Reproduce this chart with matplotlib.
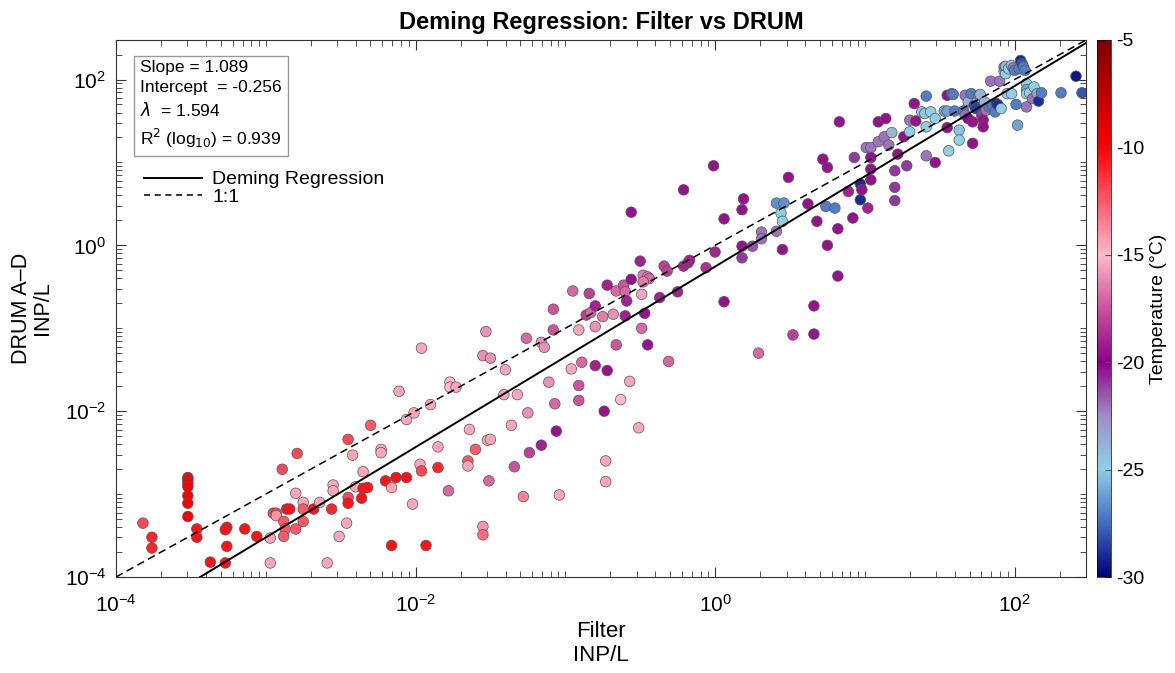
import numpy as np
import matplotlib
matplotlib.use("Agg")
import matplotlib.pyplot as plt
from matplotlib.colors import LinearSegmentedColormap
from matplotlib.lines import Line2D
from matplotlib.ticker import LogLocator, NullFormatter, FixedLocator

plt.rcParams['font.family'] = ['Liberation Sans', 'DejaVu Sans']
plt.rcParams['axes.unicode_minus'] = False

# Deming fit parameters (log10 space)
slope = 1.089
intercept = -0.256
lam = 1.594
r2 = 0.939

# log10 of Filter INP/L
filter_log10 = [
    -3.82, -3.76, -3.76, -3.52, -3.52, -3.52, -3.52, -3.52, -3.52, -3.52,
    -3.46, -3.46, -3.37, -3.27, -3.26, -3.27, -3.26, -3.14, -3.06, -2.97,
    -2.97, -2.95, -2.93, -2.93, -2.89, -2.88, -2.87, -2.88, -2.86, -2.84,
    -2.80, -2.80, -2.79, -2.75, -2.75, -2.75, -2.68, -2.64, -2.59, -2.56,
    -2.55, -2.55, -2.51, -2.46, -2.45, -2.45, -2.45, -2.42, -2.40, -2.35,
    -2.35, -2.36, -2.32, -2.30, -2.23, -2.23, -2.20, -2.16, -2.16, -2.13,
    -2.06, -2.06, -2.01, -2.02, -1.97, -1.96, -1.93, -1.90, -1.85, -1.85,
    -1.78, -1.65, -1.65, -1.64, -1.60, -1.55, -1.55, -1.52, -1.50, -1.51,
    -1.96, -2.11, -1.77, -1.77, -1.73, -1.53, -1.55, -1.50, -1.40, -1.41,
    -1.36, -1.34, -1.32, -1.28, -1.26, -1.25, -1.24, -1.16, -1.16, -1.14,
    -1.11, -1.08, -1.08, -1.07, -1.06, -1.04, -0.96, -0.95, -0.91, -0.91,
    -0.91, -0.89, -0.84, -0.86, -0.83, -0.80, -0.80, -0.80, -0.75, -0.72,
    -0.74, -0.73, -0.73, -0.68, -0.66, -0.63, -0.72, -0.66, -0.61, -0.60,
    -0.59, -0.60, -0.57, -0.56, -0.56, -0.51, -0.50, -0.49, -0.49, -0.48,
    -0.45, -0.44, -0.48, -0.47, -0.45, -0.37, -0.34, -0.32, -0.31, -0.25,
    -0.21, -0.21, -0.18, -0.17, -0.06, -0.01, 0.00, 0.06, 0.06, 0.18,
    0.19, 0.18, 0.18, 0.25, 0.29, 0.31, 0.31, 0.41, 0.46, 0.44,
    0.45, 0.41, 0.45, 0.49, 0.52, 0.62, 0.66, 0.66, 0.68, 0.74,
    0.75, 0.72, 0.75, 0.80, 0.82, 0.82, 0.83, 0.89, 0.92, 0.93,
    0.97, 0.97, 0.98, 1.02, 1.01, 1.04, 1.04, 1.04, 1.04, 1.09,
    1.14, 1.09, 1.13, 1.16, 1.18, 1.20, 1.20, 1.20, 1.22, 1.26,
    1.28, 1.30, 1.30, 1.33, 1.34, 1.38, 1.40, 1.41, 1.41, 1.41,
    1.44, 1.47, 1.47, 1.53, 1.55, 1.55, 1.55, 1.56, 1.58, 1.59,
    1.60, 1.63, 1.63, 1.66, 1.67, 1.67, 1.69, 1.69, 1.71, 1.72,
    1.72, 1.73, 1.74, 1.76, 1.77, 1.78, 1.79, 1.79, 1.80, 1.81,
    1.83, 1.85, 1.84, 1.87, 1.88, 1.89, 1.90, 1.91, 1.93, 1.93,
    1.94, 1.94, 1.96, 1.98, 1.99, 1.95, 1.98, 2.00, 2.01, 2.02,
    2.03, 2.04, 2.05, 2.06, 2.07, 2.08, 2.08, 2.08, 2.08, 2.10,
    2.13, 2.12, 2.15, 2.16, 2.18, 2.31, 2.41, 2.45,
]

# log10 of DRUM A-D INP/L
drum_log10 = [
    -3.35, -3.52, -3.65, -2.80, -2.83, -2.87, -2.91, -3.02, -3.11, -3.27,
    -3.42, -3.52, -3.82, -3.83, -3.40, -3.43, -3.63, -3.42, -3.51, -3.53,
    -3.83, -3.23, -3.23, -3.26, -2.70, -3.33, -3.42, -3.51, -3.18, -3.18,
    -2.99, -3.42, -2.51, -3.10, -3.18, -3.33, -3.18, -3.10, -3.83, -3.18,
    -2.89, -2.96, -3.51, -3.35, -2.34, -3.04, -3.11, -2.53, -2.91, -2.73,
    -2.93, -3.05, -2.92, -2.17, -2.46, -2.50, -2.84, -2.92, -3.62, -2.80,
    -2.10, -2.80, -2.02, -3.12, -2.64, -2.72, -3.62, -1.92, -2.43, -2.68,
    -2.96, -2.60, -2.66, -2.22, -2.46, -3.39, -3.49, -2.35, -2.34, -2.84,
    -1.24, -1.76, -1.65, -1.71, -1.71, -1.04, -1.33, -1.36, -1.50, -1.80,
    -2.17, -2.67, -1.80, -3.03, -1.12, -2.02, -2.50, -2.41, -1.17, -1.23,
    -1.65, -0.77, -1.02, -1.91, -2.24, -3.01, -1.49, -0.55, -1.02, -1.69,
    -1.87, -1.41, -0.58, -0.84, -0.81, -0.73, -0.98, -1.45, -0.86, -1.51,
    -2.00, -2.60, -2.85, -0.83, -1.20, -1.86, -0.48, -0.55, -0.48, -0.56,
    -0.67, -0.85, -1.64, 0.40, -0.41, -2.20, -0.19, -0.59, -1.00, -0.36,
    -0.38, -0.40, -0.44, -0.82, -1.20, -0.63, -0.25, -0.31, -1.40, -0.56,
    0.67, -0.25, -0.21, -0.18, -0.27, 0.96, -0.08, 0.32, -0.68, 0.43,
    0.56, -0.01, -0.15, -0.01, -1.30, 0.16, 0.08, 0.51, 0.51, 0.39,
    0.29, 0.17, -0.05, 0.82, -1.08, 0.50, -0.73, -1.07, 0.29, 0.47,
    0.00, 1.04, 0.94, 0.45, 0.20, -0.37, 1.49, 0.65, 0.33, 1.06,
    0.74, 0.55, 0.67, 0.45, 1.18, 1.18, 1.06, 0.92, 0.79, 1.49,
    1.53, 1.25, 1.31, 1.21, 1.36, 0.90, 0.70, 0.54, 1.10, 1.31,
    0.96, 1.51, 1.37, 1.71, 1.50, 1.61, 1.59, 1.43, 1.80, 1.08,
    1.61, 1.53, 1.00, 1.62, 1.62, 1.81, 1.42, 1.14, 1.83, 1.82,
    1.62, 1.39, 1.27, 1.62, 1.81, 1.57, 1.53, 1.73, 1.83, 1.49,
    1.23, 1.69, 1.65, 1.81, 1.82, 1.57, 1.51, 1.43, 1.73, 1.63,
    1.67, 1.69, 1.98, 1.61, 1.71, 1.69, 1.98, 1.65, 2.10, 2.15,
    2.07, 2.16, 2.13, 2.17, 2.14, 1.83, 1.83, 2.11, 1.70, 1.45,
    2.13, 2.23, 2.19, 2.15, 2.11, 1.95, 1.88, 1.83, 1.67, 1.84,
    1.91, 1.77, 1.83, 1.74, 1.84, 1.84, 2.04, 1.84,
]

# temperature (deg C) of each sample
temperature = [
    -12, -11, -11, -10, -10, -10, -10, -10, -10, -10,
    -10.5, -10.5, -10.5, -10.5, -10.5, -10.5, -10.5, -10.5, -10.5, -14.5,
    -14.5, -12, -12, -14, -12, -12.5, -12.5, -12.5, -10.5, -10.5,
    -14.5, -12.5, -12, -14.5, -12.5, -12.5, -10.5, -14.5, -14.5, -11,
    -14.5, -14.5, -14.5, -14.5, -12, -12, -10.5, -14.5, -14.5, -14.5,
    -10.5, -10.5, -10.5, -12.5, -14.5, -14.5, -10.5, -14.5, -10.5, -10.5,
    -14.5, -10.5, -14.5, -14.5, -14.5, -12, -10.5, -14.5, -14.5, -11,
    -17, -12.5, -14.5, -14.5, -12.5, -14, -13, -14.5, -14.5, -17,
    -14.5, -14.5, -15, -15, -14.5, -16, -16, -16, -14.5, -15.5,
    -14.5, -17.5, -14.5, -13.5, -17, -16, -18, -19, -16, -16,
    -16, -17.5, -17.5, -17, -19.5, -14.5, -14.5, -17, -14.5, -17.5,
    -17.5, -17, -18, -18, -17, -19, -16, -19, -16.5, -19.5,
    -19.5, -14.5, -14.5, -16, -17.5, -15, -19, -17, -17.5, -17,
    -19, -19, -15.5, -19.5, -19.5, -14.5, -19, -15.5, -17, -16.5,
    -16.5, -17, -16.5, -19.5, -19.5, -19, -18, -18, -17, -19,
    -19.5, -19, -19, -19, -18.5, -19.5, -19, -19.5, -19.5, -19.5,
    -19.5, -19.5, -21, -21.5, -17, -22, -22, -26.5, -26.5, -25,
    -25, -22, -19.5, -19.5, -18, -19.5, -19.5, -19.5, -19.5, -27,
    -19.5, -19.5, -19.5, -27, -19.5, -19.5, -19.5, -19, -19.5, -21,
    -29, -29, -19.5, -19, -22, -22, -19.5, -19.5, -19.5, -19.5,
    -19.5, -22, -22, -22, -24, -21, -21, -21, -19.5, -19.5,
    -21, -22, -25, -19.5, -19.5, -24.5, -24.5, -25, -27, -22,
    -25, -25, -19.5, -26, -26, -19.5, -19.5, -25, -27, -27,
    -27, -24.5, -25, -27, -22, -22, -20, -24, -27, -19.5,
    -19.5, -28.5, -28.5, -22, -24, -21, -19.5, -19.5, -24, -22,
    -27, -27, -22, -27, -29, -29, -22, -25, -24, -22,
    -25, -24, -25, -25, -22, -25, -25, -27, -27, -26,
    -27, -29, -28, -27, -27, -25, -26, -25, -22, -25,
    -25, -22, -23, -29, -27, -27, -29.5, -28,
]

filter_inp = 10 ** np.array(filter_log10)
drum_inp = 10 ** np.array(drum_log10)

# red -> pink -> purple -> light blue -> navy, like the original colormap
temp_cmap = LinearSegmentedColormap.from_list("temp", [
    (0.00, (0.00, 0.00, 0.50)),
    (0.10, (0.27, 0.42, 0.76)),
    (0.20, (0.55, 0.82, 0.90)),
    (0.30, (0.62, 0.55, 0.78)),
    (0.40, (0.55, 0.00, 0.55)),
    (0.50, (0.80, 0.32, 0.60)),
    (0.60, (1.00, 0.72, 0.80)),
    (0.70, (1.00, 0.35, 0.42)),
    (0.80, (1.00, 0.00, 0.00)),
    (1.00, (0.50, 0.00, 0.00)),
])

fig = plt.figure(figsize=(11.75, 6.73), dpi=100)
ax = fig.add_axes([0.0987, 0.1426, 0.8256, 0.798])
cax = fig.add_axes([0.9336, 0.1426, 0.012, 0.798])

sc = ax.scatter(filter_inp, drum_inp, c=temperature, cmap=temp_cmap,
                vmin=-30, vmax=-5, s=58, edgecolors='#555555',
                linewidths=0.5, zorder=3)

lims = (1e-4, 300)
xs = np.logspace(np.log10(lims[0]), np.log10(lims[1]), 50)
ax.plot(xs, 10 ** intercept * xs ** slope, color='black', lw=1.4, zorder=4)
ax.plot(xs, xs, color='black', lw=1.1, ls=(0, (5, 3)), zorder=4)

ax.set_xscale('log')
ax.set_yscale('log')
ax.set_xlim(lims)
ax.set_ylim(lims)

major = [1e-4, 1e-2, 1e0, 1e2]
ax.xaxis.set_major_locator(FixedLocator(major))
ax.yaxis.set_major_locator(FixedLocator(major))
for axis in (ax.xaxis, ax.yaxis):
    axis.set_minor_locator(LogLocator(base=10, subs=np.arange(1, 10), numticks=20))
    axis.set_minor_formatter(NullFormatter())
ax.tick_params(which='both', direction='in', top=True, right=True,
               labelsize=15, color='#333333')
ax.tick_params(which='major', length=7, width=0.8)
ax.tick_params(which='minor', length=4, width=0.6)
ax.tick_params(axis='x', which='major', pad=12)
ax.tick_params(axis='y', which='major', pad=7)
for sp in ax.spines.values():
    sp.set_color('#333333')
    sp.set_linewidth(0.8)

ax.set_xlabel("Filter\nINP/L", fontsize=16, labelpad=4, linespacing=1.2)
ax.set_ylabel("DRUM A\u2013D\nINP/L", fontsize=15.5, labelpad=8, linespacing=1.0)
ax.set_title("Deming Regression: Filter vs DRUM", fontsize=17,
             fontweight='bold', pad=8)

stats = ("Slope = %.3f\nIntercept  = %.3f\n$\\lambda$  = %.3f\n"
         "R$^2$ (log$_{10}$) = %.3f" % (slope, intercept, lam, r2))
ax.text(0.025, 0.962, stats, transform=ax.transAxes, va='top', ha='left',
        fontsize=12.5, linespacing=1.4, zorder=5,
        bbox=dict(boxstyle='square,pad=0.35', fc='white', ec='#999999', lw=1))

handles = [Line2D([], [], color='black', lw=1.4),
           Line2D([], [], color='black', lw=1.1, ls=(0, (4, 3)))]
ax.legend(handles, ["Deming Regression", "1:1"], loc='upper left',
          bbox_to_anchor=(0.017, 0.778), frameon=False, fontsize=14,
          handlelength=3.0, handletextpad=0.5, labelspacing=0.0,
          borderaxespad=0.2)

cb = fig.colorbar(sc, cax=cax)
cb.set_ticks([-5, -10, -15, -20, -25, -30])
cb.ax.tick_params(labelsize=14, direction='in', length=4, color='#555555')
cb.set_label("Temperature (\u00b0C)", fontsize=14, labelpad=4)
cb.outline.set_linewidth(0.5)

fig.savefig("out.png", dpi=100)
